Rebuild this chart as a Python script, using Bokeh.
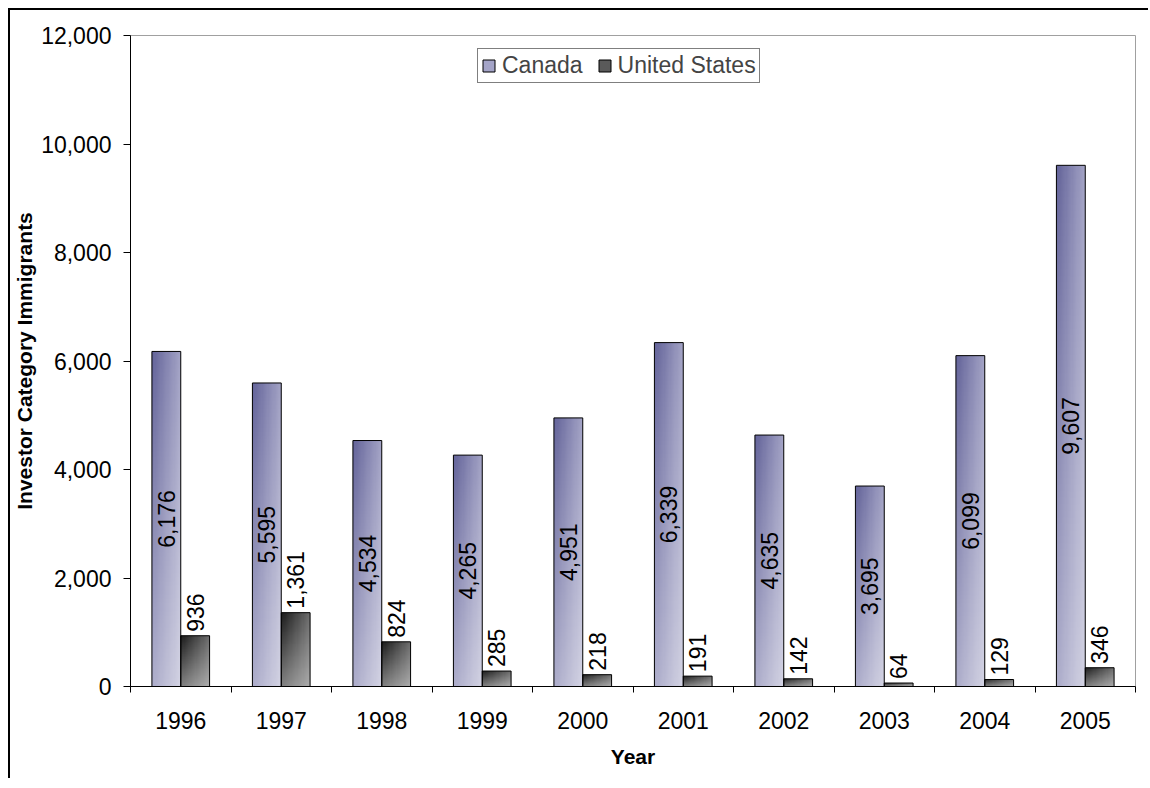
import numpy as np
from bokeh.plotting import figure
from bokeh.models import (ColumnDataSource, FixedTicker, NumeralTickFormatter, Legend,
                          LegendItem, Range1d, CustomJSTickFormatter)
from bokeh.embed import file_html
from bokeh.resources import INLINE
from bokeh.core.properties import value

years = ["1996", "1997", "1998", "1999", "2000", "2001", "2002", "2003", "2004", "2005"]
canada = [6176, 5595, 4534, 4265, 4951, 6339, 4635, 3695, 6099, 9607]
united_states = [936, 1361, 824, 285, 218, 191, 142, 64, 129, 346]
y_ticks = [0, 2000, 4000, 6000, 8000, 10000, 12000]

FONT = "Liberation Sans"
FS = "23px"
FSB = "21px"
idx = np.arange(len(years))
bar_w = 0.287
can_left = idx + 0.5 - bar_w
us_left = idx + 0.5


def gradient(tl, tr, bl, br, nx=24, ny=80):
    tl, tr, bl, br = [np.array(c, dtype=float) for c in (tl, tr, bl, br)]
    u = np.linspace(0, 1, nx)[None, :, None]
    v = np.linspace(0, 1, ny)[:, None, None]  # row 0 = bottom
    c = (1 - v) * ((1 - u) * bl + u * br) + v * ((1 - u) * tl + u * tr)
    img = np.empty((ny, nx), dtype=np.uint32)
    view = img.view(dtype=np.uint8).reshape((ny, nx, 4))
    view[..., :3] = np.clip(c.round(), 0, 255).astype(np.uint8)
    view[..., 3] = 255
    return img


can_img = gradient((100, 100, 154), (164, 164, 198), (172, 172, 202), (212, 212, 228))
us_img = gradient((26, 26, 26), (108, 108, 108), (128, 128, 128), (172, 172, 172))

p = figure(width=1140, height=770, output_backend="svg", toolbar_location=None,
           x_range=Range1d(0, 10), y_range=Range1d(0, 12000),
           min_border_left=119, min_border_top=25, min_border_right=15, min_border_bottom=94)
p.styles = {"border-left": "2px solid black", "border-top": "2px solid black",
            "margin-left": "8px", "margin-top": "8px"}
p.outline_line_color = "#a0a0a0"
p.outline_line_width = 1
p.xgrid.grid_line_color = None
p.ygrid.grid_line_color = None

src_can = ColumnDataSource(dict(x=can_left, xc=can_left + bar_w / 2, top=canada,
                                mid=np.array(canada) / 2,
                                lab=[f"{v:,}" for v in canada],
                                img=[can_img] * len(years)))
src_us = ColumnDataSource(dict(x=us_left, xc=us_left + bar_w / 2, top=united_states,
                               lab=[f"{v:,}" for v in united_states],
                               img=[us_img] * len(years)))

p.image_rgba(image="img", x="x", y=0, dw=bar_w, dh="top", source=src_can)
p.image_rgba(image="img", x="x", y=0, dw=bar_w, dh="top", source=src_us)
p.vbar(x="xc", width=bar_w, top="top", bottom=0, source=src_can, fill_alpha=0,
       line_color="black", line_width=1)
p.vbar(x="xc", width=bar_w, top="top", bottom=0, source=src_us, fill_alpha=0,
       line_color="black", line_width=1)

p.text(x="xc", y="mid", text="lab", source=src_can, angle=np.pi / 2,
       text_align="center", text_baseline="middle", text_font=value(FONT),
       text_font_size=FS, text_color="black")
p.text(x="xc", y="top", text="lab", source=src_us, angle=np.pi / 2,
       text_align="left", text_baseline="middle", text_font=value(FONT),
       text_font_size=FS, text_color="black", y_offset=-4)

# legend proxies (placed outside the visible range)
r_can = p.vbar(x="x", top="top", width=0.3, source=ColumnDataSource(dict(x=[-50], top=[1])),
               fill_color="#a4a4c8", line_color="black")
r_us = p.vbar(x="x", top="top", width=0.3, source=ColumnDataSource(dict(x=[-50], top=[1])),
              fill_color="#5a5a5a", line_color="black")
legend = Legend(items=[LegendItem(label="Canada", renderers=[r_can]),
                       LegendItem(label="United States", renderers=[r_us])],
                orientation="horizontal", location=(347, 603))
legend.label_text_font = FONT
legend.label_text_font_size = FS
legend.glyph_width = 15
legend.glyph_height = 15
legend.label_standoff = 6
legend.spacing = 14
legend.padding = 3
legend.margin = 0
legend.border_line_color = "black"
legend.border_line_width = 1
legend.background_fill_color = "white"
legend.background_fill_alpha = 1
p.add_layout(legend)

# x axis
xa = p.xaxis[0]
xa.ticker = FixedTicker(ticks=list(idx + 0.5), minor_ticks=list(range(len(years) + 1)))
xa.formatter = CustomJSTickFormatter(args=dict(labels=years),
                                     code="return labels[Math.floor(tick)];")
xa.major_tick_out = 0
xa.major_tick_in = 0
xa.minor_tick_out = 6
xa.minor_tick_in = 0
xa.minor_tick_line_color = "black"
xa.axis_line_color = "black"
xa.major_label_text_font = FONT
xa.major_label_text_font_size = FS
xa.major_label_text_color = "black"
xa.major_label_standoff = 19
xa.axis_label = "Year"
xa.axis_label_text_font = FONT
xa.axis_label_text_font_size = FSB
xa.axis_label_text_font_style = "bold"
xa.axis_label_text_color = "black"
xa.axis_label_standoff = 13

# y axis
ya = p.yaxis[0]
ya.ticker = FixedTicker(ticks=y_ticks)
ya.formatter = NumeralTickFormatter(format="0,0")
ya.major_tick_out = 7
ya.major_tick_in = 0
ya.minor_tick_line_color = None
ya.axis_line_color = "black"
ya.major_label_text_font = FONT
ya.major_label_text_font_size = FS
ya.major_label_text_color = "black"
ya.major_label_standoff = 12
ya.axis_label = "Investor Category Immigrants"
ya.axis_label_text_font = FONT
ya.axis_label_text_font_size = FSB
ya.axis_label_text_font_style = "bold"
ya.axis_label_text_color = "black"
ya.axis_label_standoff = 2

open("out.html", "w").write(file_html(p, INLINE))
